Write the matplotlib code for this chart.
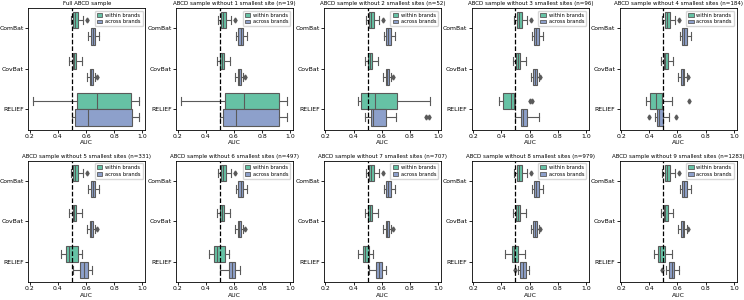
import matplotlib.pyplot as plt
from matplotlib.patches import Patch

titles = [
    "Full ABCD sample",
    "ABCD sample without 1 smallest site (n=19)",
    "ABCD sample without 2 smallest sites (n=52)",
    "ABCD sample without 3 smallest sites (n=96)",
    "ABCD sample without 4 smallest sites (n=184)",
    "ABCD sample without 5 smallest sites (n=331)",
    "ABCD sample without 6 smallest sites (n=497)",
    "ABCD sample without 7 smallest sites (n=707)",
    "ABCD sample without 8 smallest sites (n=979)",
    "ABCD sample without 9 smallest sites (n=1283)",
]
methods = ["ComBat", "CovBat", "RELIEF"]
hue_labels = ["within brands", "across brands"]
colors = ["#66c2a5", "#8da0cb"]

# box summaries: whisker low, q1, median, q3, whisker high
combat_within = [0.49, 0.51, 0.525, 0.545, 0.58]
combat_within_fliers = [0.61]
combat_across = [0.615, 0.632, 0.648, 0.665, 0.693]
covbat_within = [0.48, 0.505, 0.515, 0.532, 0.572]
covbat_across = [0.607, 0.627, 0.638, 0.65, 0.667]
covbat_across_fliers = [0.677]

relief_within = [
    [0.225, 0.535, 0.675, 0.918, 0.978],
    [0.225, 0.535, 0.672, 0.918, 0.978],
    [0.43, 0.455, 0.555, 0.71, 0.945],
    [0.38, 0.408, 0.467, 0.486, 0.50],
    [0.377, 0.408, 0.45, 0.49, 0.561],
    [0.422, 0.457, 0.481, 0.54, 0.568],
    [0.422, 0.457, 0.48, 0.54, 0.568],
    [0.434, 0.464, 0.481, 0.509, 0.54],
    [0.429, 0.476, 0.493, 0.516, 0.565],
    [0.431, 0.46, 0.478, 0.509, 0.561],
]
relief_within_fliers = [[], [], [], [0.60, 0.62], [0.679], [], [], [], [], []]
relief_across = [
    [0.497, 0.52, 0.612, 0.925, 0.975],
    [0.50, 0.522, 0.612, 0.922, 0.975],
    [0.479, 0.527, 0.538, 0.63, 0.70],
    [0.497, 0.537, 0.556, 0.585, 0.667],
    [0.438, 0.455, 0.47, 0.495, 0.542],
    [0.509, 0.559, 0.587, 0.611, 0.641],
    [0.504, 0.563, 0.587, 0.61, 0.646],
    [0.511, 0.559, 0.58, 0.604, 0.634],
    [0.521, 0.533, 0.552, 0.575, 0.594],
    [0.519, 0.537, 0.561, 0.578, 0.613],
]
relief_across_fliers = [[], [], [0.915, 0.935], [], [0.396, 0.589], [], [], [], [0.50], [0.49]]


def box_stats(v, fliers):
    return dict(whislo=v[0], q1=v[1], med=v[2], q3=v[3], whishi=v[4], fliers=fliers)


edge = "#5a5a5a"
fig, axes = plt.subplots(2, 5, figsize=(7.44, 3.0), dpi=100)
fig.subplots_adjust(left=0.038, right=0.99, top=0.973, bottom=0.06, wspace=0.265, hspace=0.255)

for i, ax in enumerate(axes.flat):
    within = [box_stats(combat_within, combat_within_fliers),
              box_stats(covbat_within, []),
              box_stats(relief_within[i], relief_within_fliers[i])]
    across = [box_stats(combat_across, []),
              box_stats(covbat_across, covbat_across_fliers),
              box_stats(relief_across[i], relief_across_fliers[i])]
    for k, (st, col) in enumerate(zip([within, across], colors)):
        pos = [j - 0.2 + 0.4 * k for j in range(len(methods))]
        ax.bxp(st, positions=pos, widths=0.4, orientation="horizontal",
               patch_artist=True, manage_ticks=False,
               boxprops=dict(facecolor=col, edgecolor=edge, linewidth=0.8),
               medianprops=dict(color=edge, linewidth=0.8),
               whiskerprops=dict(color=edge, linewidth=0.8),
               capprops=dict(color=edge, linewidth=0.8),
               flierprops=dict(marker="d", markersize=2.5, markerfacecolor=edge,
                               markeredgecolor=edge, linestyle="none"))
    ax.axvline(0.5, color="black", linestyle="--", linewidth=0.9, zorder=5)
    ax.set_xlim(0.19, 1.02)
    ax.set_ylim(2.5, -0.5)
    ax.set_xticks([0.2, 0.4, 0.6, 0.8, 1.0])
    ax.set_yticks(range(len(methods)))
    ax.set_yticklabels(methods)
    ax.tick_params(labelsize=4.4, length=2, width=0.6, pad=1.2)
    ax.set_xlabel("AUC", fontsize=4.4, labelpad=1)
    ax.set_title(titles[i], fontsize=4.0, pad=2)
    for s in ax.spines.values():
        s.set_linewidth(0.6)
    handles = [Patch(facecolor=c, edgecolor=edge, linewidth=0.6) for c in colors]
    ax.legend(handles, hue_labels, loc="upper right", fontsize=3.7,
              handlelength=1.1, handleheight=0.8, borderpad=0.4, labelspacing=0.3,
              handletextpad=0.5, framealpha=0.8)

fig.savefig("out.png", dpi=100)
